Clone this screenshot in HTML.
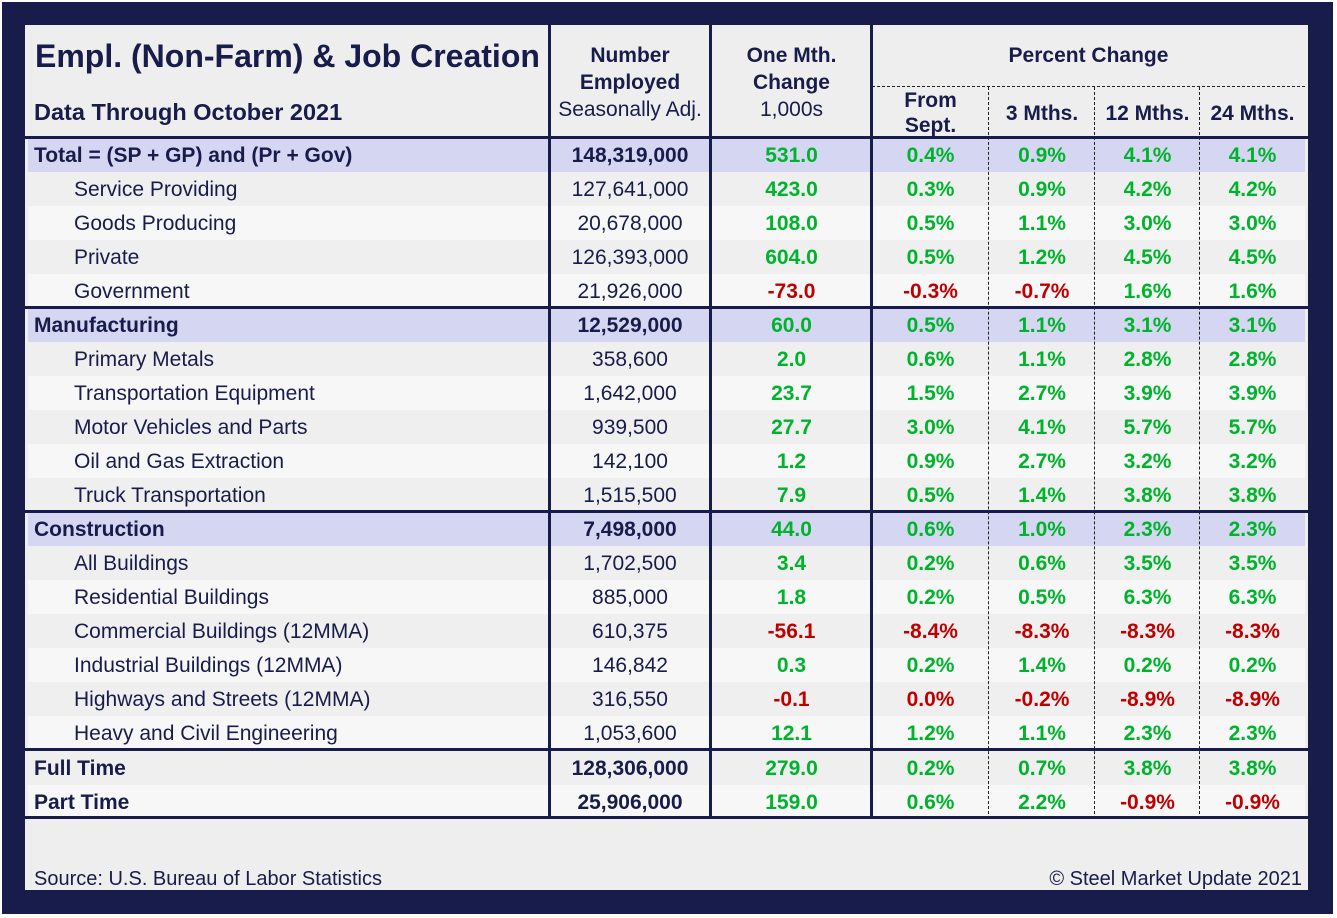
<!DOCTYPE html>
<html><head><style>
body{margin:0;width:1337px;height:918px;background:#fff;position:relative;overflow:hidden;font-family:"Liberation Sans",Arial,sans-serif;color:#181c4a}
#navy{position:absolute;left:2px;top:2px;width:1331px;height:912px;background:#181c4a}
#panel{position:absolute;left:25px;top:25px;width:1283px;height:865px;background:#eeeeee}
.abs{position:absolute}
.row{position:absolute;left:28px;width:1277px;height:34px;display:flex;font-size:21px;line-height:36px}
.row div{text-align:center}
.l{width:521px;text-align:left!important;padding-left:46px;box-sizing:border-box}
.g .l{padding-left:6px;font-weight:bold}
.g .n{font-weight:bold}
.n{width:162px}.c{width:161px;font-weight:bold}
.p1{width:117px;font-weight:bold}.p2{width:106px;font-weight:bold}.p3{width:105px;font-weight:bold}.p4{width:105px;font-weight:bold}
.gr{color:#00b32c}.rd{color:#c00000}
.vl{position:absolute;width:3px;background:#181c4a}
.hl{position:absolute;height:3px;background:#181c4a;left:25px;width:1283px}
.dv{position:absolute;border-left:1.5px dashed #222;width:0}
</style></head><body>
<div id="navy"></div><div id="panel"></div>
<div class="abs" style="left:35px;top:38px;font-size:32px;font-weight:bold">Empl. (Non-Farm) &amp; Job Creation</div>
<div class="abs" style="left:34px;top:99px;font-size:23.5px;font-weight:bold">Data Through October 2021</div>
<div class="abs" style="left:549px;top:42px;width:162px;text-align:center;font-size:21px;line-height:27px"><b>Number<br>Employed</b><br>Seasonally Adj.</div>
<div class="abs" style="left:711px;top:42px;width:161px;text-align:center;font-size:21px;line-height:27px"><b>One Mth.<br>Change</b><br>1,000s</div>
<div class="abs" style="left:872px;top:44px;width:433px;text-align:center;font-size:21px;font-weight:bold">Percent Change</div>
<div class="abs" style="left:872px;top:88px;width:117px;text-align:center;font-size:21px;font-weight:bold;line-height:25px">From<br>Sept.</div>
<div class="abs" style="left:989px;top:102px;width:106px;text-align:center;font-size:21px;font-weight:bold">3 Mths.</div>
<div class="abs" style="left:1095px;top:102px;width:105px;text-align:center;font-size:21px;font-weight:bold">12 Mths.</div>
<div class="abs" style="left:1200px;top:102px;width:105px;text-align:center;font-size:21px;font-weight:bold">24 Mths.</div>
<div class="abs" style="left:872px;top:86px;width:433px;border-top:1.5px dashed #222"></div>

<div class="row g" style="top:138px;background:#d4d6f2"><div class="l">Total = (SP + GP) and (Pr + Gov)</div><div class="n">148,319,000</div><div class="c gr">531.0</div><div class="p1 gr">0.4%</div><div class="p2 gr">0.9%</div><div class="p3 gr">4.1%</div><div class="p4 gr">4.1%</div></div>
<div class="row" style="top:172px;background:#efefef"><div class="l">Service Providing</div><div class="n">127,641,000</div><div class="c gr">423.0</div><div class="p1 gr">0.3%</div><div class="p2 gr">0.9%</div><div class="p3 gr">4.2%</div><div class="p4 gr">4.2%</div></div>
<div class="row" style="top:206px;background:#f7f7f7"><div class="l">Goods Producing</div><div class="n">20,678,000</div><div class="c gr">108.0</div><div class="p1 gr">0.5%</div><div class="p2 gr">1.1%</div><div class="p3 gr">3.0%</div><div class="p4 gr">3.0%</div></div>
<div class="row" style="top:240px;background:#efefef"><div class="l">Private</div><div class="n">126,393,000</div><div class="c gr">604.0</div><div class="p1 gr">0.5%</div><div class="p2 gr">1.2%</div><div class="p3 gr">4.5%</div><div class="p4 gr">4.5%</div></div>
<div class="row" style="top:274px;background:#f7f7f7"><div class="l">Government</div><div class="n">21,926,000</div><div class="c rd">-73.0</div><div class="p1 rd">-0.3%</div><div class="p2 rd">-0.7%</div><div class="p3 gr">1.6%</div><div class="p4 gr">1.6%</div></div>
<div class="row g" style="top:308px;background:#d4d6f2"><div class="l">Manufacturing</div><div class="n">12,529,000</div><div class="c gr">60.0</div><div class="p1 gr">0.5%</div><div class="p2 gr">1.1%</div><div class="p3 gr">3.1%</div><div class="p4 gr">3.1%</div></div>
<div class="row" style="top:342px;background:#efefef"><div class="l">Primary Metals</div><div class="n">358,600</div><div class="c gr">2.0</div><div class="p1 gr">0.6%</div><div class="p2 gr">1.1%</div><div class="p3 gr">2.8%</div><div class="p4 gr">2.8%</div></div>
<div class="row" style="top:376px;background:#f7f7f7"><div class="l">Transportation Equipment</div><div class="n">1,642,000</div><div class="c gr">23.7</div><div class="p1 gr">1.5%</div><div class="p2 gr">2.7%</div><div class="p3 gr">3.9%</div><div class="p4 gr">3.9%</div></div>
<div class="row" style="top:410px;background:#efefef"><div class="l">Motor Vehicles and Parts</div><div class="n">939,500</div><div class="c gr">27.7</div><div class="p1 gr">3.0%</div><div class="p2 gr">4.1%</div><div class="p3 gr">5.7%</div><div class="p4 gr">5.7%</div></div>
<div class="row" style="top:444px;background:#f7f7f7"><div class="l">Oil and Gas Extraction</div><div class="n">142,100</div><div class="c gr">1.2</div><div class="p1 gr">0.9%</div><div class="p2 gr">2.7%</div><div class="p3 gr">3.2%</div><div class="p4 gr">3.2%</div></div>
<div class="row" style="top:478px;background:#efefef"><div class="l">Truck Transportation</div><div class="n">1,515,500</div><div class="c gr">7.9</div><div class="p1 gr">0.5%</div><div class="p2 gr">1.4%</div><div class="p3 gr">3.8%</div><div class="p4 gr">3.8%</div></div>
<div class="row g" style="top:512px;background:#d4d6f2"><div class="l">Construction</div><div class="n">7,498,000</div><div class="c gr">44.0</div><div class="p1 gr">0.6%</div><div class="p2 gr">1.0%</div><div class="p3 gr">2.3%</div><div class="p4 gr">2.3%</div></div>
<div class="row" style="top:546px;background:#efefef"><div class="l">All Buildings</div><div class="n">1,702,500</div><div class="c gr">3.4</div><div class="p1 gr">0.2%</div><div class="p2 gr">0.6%</div><div class="p3 gr">3.5%</div><div class="p4 gr">3.5%</div></div>
<div class="row" style="top:580px;background:#f7f7f7"><div class="l">Residential Buildings</div><div class="n">885,000</div><div class="c gr">1.8</div><div class="p1 gr">0.2%</div><div class="p2 gr">0.5%</div><div class="p3 gr">6.3%</div><div class="p4 gr">6.3%</div></div>
<div class="row" style="top:614px;background:#efefef"><div class="l">Commercial Buildings (12MMA)</div><div class="n">610,375</div><div class="c rd">-56.1</div><div class="p1 rd">-8.4%</div><div class="p2 rd">-8.3%</div><div class="p3 rd">-8.3%</div><div class="p4 rd">-8.3%</div></div>
<div class="row" style="top:648px;background:#f7f7f7"><div class="l">Industrial Buildings (12MMA)</div><div class="n">146,842</div><div class="c gr">0.3</div><div class="p1 gr">0.2%</div><div class="p2 gr">1.4%</div><div class="p3 gr">0.2%</div><div class="p4 gr">0.2%</div></div>
<div class="row" style="top:682px;background:#efefef"><div class="l">Highways and Streets (12MMA)</div><div class="n">316,550</div><div class="c rd">-0.1</div><div class="p1 rd">0.0%</div><div class="p2 rd">-0.2%</div><div class="p3 rd">-8.9%</div><div class="p4 rd">-8.9%</div></div>
<div class="row" style="top:716px;background:#f7f7f7"><div class="l">Heavy and Civil Engineering</div><div class="n">1,053,600</div><div class="c gr">12.1</div><div class="p1 gr">1.2%</div><div class="p2 gr">1.1%</div><div class="p3 gr">2.3%</div><div class="p4 gr">2.3%</div></div>
<div class="row g" style="top:751px;background:#efefef"><div class="l">Full Time</div><div class="n">128,306,000</div><div class="c gr">279.0</div><div class="p1 gr">0.2%</div><div class="p2 gr">0.7%</div><div class="p3 gr">3.8%</div><div class="p4 gr">3.8%</div></div>
<div class="row g" style="top:785px;background:#f7f7f7"><div class="l">Part Time</div><div class="n">25,906,000</div><div class="c gr">159.0</div><div class="p1 gr">0.6%</div><div class="p2 gr">2.2%</div><div class="p3 rd">-0.9%</div><div class="p4 rd">-0.9%</div></div>

<div class="vl" style="left:548px;top:25px;height:794px"></div>
<div class="vl" style="left:709px;top:25px;height:794px"></div>
<div class="vl" style="left:870px;top:25px;height:794px"></div>
<div class="dv" style="left:988px;top:87px;height:732px"></div>
<div class="dv" style="left:1094px;top:87px;height:732px"></div>
<div class="dv" style="left:1199px;top:87px;height:732px"></div>
<div class="hl" style="top:136px"></div>
<div class="hl" style="top:306px"></div>
<div class="hl" style="top:510px"></div>
<div class="hl" style="top:748px"></div>
<div class="hl" style="top:816px"></div>

<div class="abs" style="left:34px;top:868px;font-size:20px">Source: U.S. Bureau of Labor Statistics</div>
<div class="abs" style="right:35px;top:868px;font-size:20px">© Steel Market Update 2021</div>
</body></html>
